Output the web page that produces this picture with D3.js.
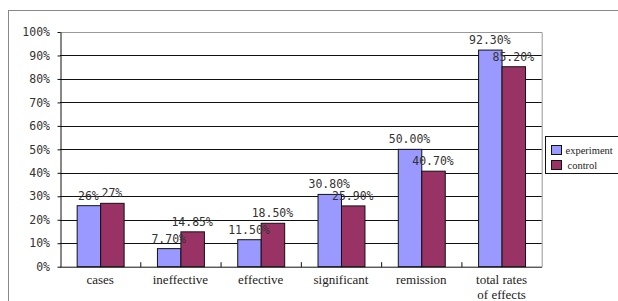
<!DOCTYPE html>
<html><head><meta charset="utf-8">
<script src="https://cdn.jsdelivr.net/npm/d3@7"></script>
<style>body{margin:0;background:#fff;}svg{display:block;}.serif{font-family:'Liberation Serif','Times New Roman',serif;}</style>
</head><body>
<script>
const categories = [["cases"],["ineffective"],["effective"],["significant"],["remission"],["total rates","of effects"]];
const seriesNames = ["experiment","control"];
const experiment = [26, 7.70, 11.50, 30.80, 50.00, 92.30];
const control = [27, 14.85, 18.50, 25.90, 40.70, 85.20];
const experimentLabels = ["26%","7.70%","11.50%","30.80%","50.00%","92.30%"];
const controlLabels = ["27%","14.85%","18.50%","25.90%","40.70%","85.20%"];
const yTicks = [0,10,20,30,40,50,60,70,80,90,100];
const colors = ["#9999FF","#993366"];

const W=618,H=301;
const svg=d3.select("body").append("svg").attr("width",W).attr("height",H);
svg.append("rect").attr("x",8.5).attr("y",10.5).attr("width",W).attr("height",H).attr("fill","none").attr("stroke","#888").attr("stroke-width",1);

const L=60,R=541.7,T=32,B=266.7;
const x=d3.scaleBand().domain(d3.range(categories.length)).range([L,R]).paddingInner(0).paddingOuter(0);
const y=d3.scaleLinear().domain([0,100]).range([B,T]);
const sub=d3.scaleBand().domain([0,1]).range([0,x.bandwidth()]).paddingOuter(0.71).paddingInner(0);

svg.append("path").attr("d",`M${L},${T+0.5}H${R+0.5}V${B}`).attr("fill","none").attr("stroke","#999");
svg.append("g").selectAll("line").data(yTicks.filter(d=>d>0&&d<100)).join("line")
  .attr("x1",L).attr("x2",R).attr("y1",d=>Math.round(y(d))+0.5).attr("y2",d=>Math.round(y(d))+0.5)
  .attr("stroke","#111");

const ya=svg.append("g").attr("transform",`translate(${L+0.5},0)`)
  .call(d3.axisLeft(y).tickValues(yTicks).tickFormat(d=>d+"%").tickSize(3).tickSizeOuter(0));
ya.select(".domain").attr("stroke","#111");
ya.selectAll(".tick line").attr("stroke","#111");
ya.selectAll("text").attr("font-family","DejaVu Sans Mono").attr("font-size","11.5px").attr("fill","#333").attr("x",-10.5);

const data=categories.map((c,i)=>({i,vals:[experiment[i],control[i]],labs:[experimentLabels[i],controlLabels[i]]}));
const g=svg.append("g");
data.forEach(d=>{
  d.vals.forEach((v,s)=>{
    g.append("rect").attr("x",x(d.i)+sub(s)+0.5).attr("y",y(v)).attr("width",sub.bandwidth()).attr("height",B-y(v))
      .attr("fill",colors[s]).attr("stroke","#111").attr("stroke-width",1);
  });
});

const xa=svg.append("g").attr("transform",`translate(0,${B+0.5})`);
xa.append("line").attr("x1",L).attr("x2",R+0.5).attr("stroke","#111");
xa.selectAll("line.t").data(d3.range(1,categories.length)).join("line").attr("class","t")
  .attr("x1",d=>x(d)+0.5).attr("x2",d=>x(d)+0.5).attr("y1",0).attr("y2",-5).attr("stroke","#111");
const xl=svg.append("g").selectAll("text").data(categories).join("text")
  .attr("class","serif")
  .attr("x",(d,i)=>x(i)+x.bandwidth()/2).attr("y",284)
  .attr("text-anchor","middle").attr("font-size","13px").attr("fill","#222");
xl.each(function(d){
  const t=d3.select(this);
  d.forEach((line,k)=>t.append("tspan").attr("x",t.attr("x")).attr("dy",k?15:0).text(line));
});

data.forEach(d=>{
  d.vals.forEach((v,s)=>{
    svg.append("text").attr("x",x(d.i)+sub(s)+sub.bandwidth()/2).attr("y",y(v)-6)
      .attr("text-anchor","middle").attr("font-family","DejaVu Sans Mono").attr("font-size","11.5px").attr("fill","#333")
      .text(d.labs[s]);
  });
});

const lg=svg.append("g");
lg.append("rect").attr("x",545.5).attr("y",136.5).attr("width",100).attr("height",37).attr("fill","#fff").attr("stroke","#111");
seriesNames.forEach((n,s)=>{
  lg.append("rect").attr("x",551.5).attr("y",145.5+s*15).attr("width",10).attr("height",9).attr("fill",colors[s]).attr("stroke","#111");
  lg.append("text").attr("class","serif").attr("x",s?567.5:565.5).attr("y",153.5+s*15).attr("font-size","10.5px").attr("fill","#222").text(n);
});
</script>
</body></html>
